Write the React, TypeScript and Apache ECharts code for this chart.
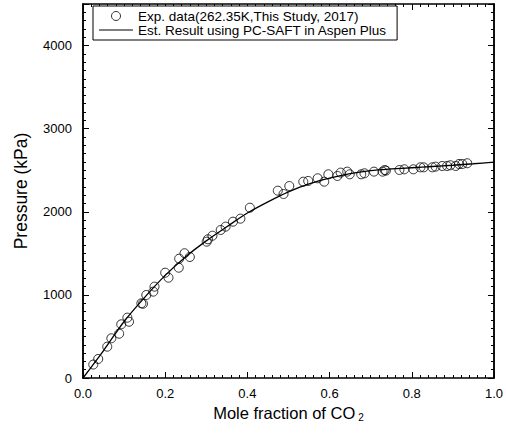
import React, { useEffect, useRef } from "react";
import * as echarts from "echarts";

// Experimental data (mole fraction of CO2, pressure kPa)
const expX = [0.025, 0.037, 0.059, 0.069, 0.088, 0.093, 0.108, 0.112, 0.142, 0.146, 0.154, 0.171, 0.174, 0.2, 0.208, 0.233, 0.234, 0.247, 0.26, 0.301, 0.304, 0.315, 0.335, 0.347, 0.365, 0.383, 0.406, 0.474, 0.488, 0.502, 0.536, 0.548, 0.571, 0.587, 0.597, 0.619, 0.627, 0.643, 0.649, 0.677, 0.685, 0.708, 0.729, 0.734, 0.737, 0.77, 0.782, 0.804, 0.821, 0.829, 0.85, 0.858, 0.874, 0.886, 0.894, 0.907, 0.915, 0.923, 0.935];
const expP = [162, 229, 377, 478, 533, 646, 726, 677, 899, 894, 999, 1039, 1099, 1267, 1207, 1327, 1436, 1501, 1456, 1640, 1669, 1712, 1781, 1821, 1881, 1917, 2049, 2254, 2214, 2310, 2362, 2371, 2403, 2362, 2451, 2431, 2471, 2483, 2451, 2451, 2463, 2483, 2483, 2503, 2495, 2503, 2511, 2511, 2535, 2535, 2535, 2543, 2551, 2551, 2560, 2551, 2575, 2575, 2584];

// PC-SAFT estimated curve
const curveX = [0, 0.05, 0.1, 0.15, 0.2, 0.25, 0.3, 0.35, 0.4, 0.45, 0.5, 0.55, 0.6, 0.65, 0.7, 0.75, 0.8, 0.85, 0.9, 0.95, 1.0];
const curveP = [0, 330, 680, 970, 1235, 1460, 1650, 1820, 1985, 2120, 2240, 2335, 2405, 2460, 2495, 2515, 2530, 2545, 2560, 2578, 2597];

const seriesNames = ["Exp. data(262.35K,This Study, 2017)", "Est. Result using PC-SAFT in Aspen Plus"];
const xTitle = "Mole fraction of CO";
const yTitle = "Pressure (kPa)";

const FONT = "'Liberation Sans Narrow', 'Liberation Sans', Arial, sans-serif";

export default function App() {
  const ref = useRef<HTMLDivElement>(null);
  useEffect(() => {
    if (!ref.current) return;
    const chart = echarts.init(ref.current, undefined, { renderer: "svg" });
    const axisLine = { show: true, onZero: false, lineStyle: { color: "#000", width: 1.5 } };
    const xBase = (pos: "top" | "bottom", labels: boolean) => ({
      type: "value" as const,
      position: pos,
      min: 0,
      max: 1,
      interval: 0.2,
      axisLine,
      axisTick: { show: true, inside: true, length: 6, lineStyle: { color: "#000", width: 1 } },
      minorTick: { show: true, splitNumber: 10, length: 3, lineStyle: { color: "#000", width: 1 } },
      splitLine: { show: false },
      minorSplitLine: { show: false },
      axisLabel: labels
        ? { show: true, margin: 9, color: "#000", fontSize: 13, fontFamily: FONT, formatter: (v: number) => v.toFixed(1) }
        : { show: false },
    });
    const yMinor = (pos: "left" | "right") => ({
      type: "value" as const,
      position: pos,
      min: 0,
      max: 4500,
      interval: 100,
      axisLine,
      axisTick: { show: true, inside: true, length: 3, lineStyle: { color: "#000", width: 1 } },
      splitLine: { show: false },
      axisLabel: { show: false },
    });
    const yMajor = (pos: "left" | "right", labels: boolean) => ({
      type: "value" as const,
      position: pos,
      min: 0,
      max: 4500,
      interval: 1000,
      axisLine,
      axisTick: { show: true, inside: true, length: 6, lineStyle: { color: "#000", width: 1 } },
      splitLine: { show: false },
      axisLabel: labels
        ? {
            show: true,
            margin: 11,
            color: "#000",
            fontSize: 13,
            fontFamily: FONT,
            formatter: (v: number) => (v % 1000 === 0 ? String(v) : ""),
          }
        : { show: false },
    });

    chart.setOption({
      animation: false,
      backgroundColor: "#fff",
      grid: { left: 83, right: 9, top: 4, bottom: 59, containLabel: false },
      legend: {
        show: true,
        orient: "vertical",
        left: 93,
        top: 6,
        padding: [3, 10, 3, 6],
        itemGap: 0,
        itemWidth: 34,
        itemHeight: 9,
        borderColor: "#000",
        borderWidth: 1,
        backgroundColor: "#fff",
        textStyle: { color: "#000", fontSize: 13.5, fontFamily: FONT, lineHeight: 12 },
        data: [
          { name: seriesNames[0], icon: "circle", itemStyle: { color: "rgba(255,255,255,0)", borderColor: "#000", borderWidth: 1 } },
          { name: seriesNames[1], icon: "path://M0 0 L40 0 L40 1 L0 1 Z", itemStyle: { color: "#000", borderWidth: 0 } },
        ],
      },
      xAxis: [
        {
          ...xBase("bottom", true),
          name: xTitle + "{sub|2}",
          nameLocation: "middle",
          nameGap: 26,
          nameTextStyle: {
            color: "#000",
            fontSize: 16.5,
            fontFamily: FONT,
            rich: { sub: { fontSize: 10, fontFamily: FONT, color: "#000", verticalAlign: "bottom", padding: [8, 0, 0, 3] } },
          },
        },
        xBase("top", false),
      ],
      yAxis: [
        yMinor("left"),
        {
          ...yMajor("left", true),
          name: yTitle,
          nameLocation: "middle",
          nameGap: 53,
          nameRotate: 90,
          nameTextStyle: { color: "#000", fontSize: 17.5, fontFamily: FONT },
        },
        yMinor("right"),
        yMajor("right", false),
      ],
      series: [
        {
          name: seriesNames[0],
          type: "scatter",
          xAxisIndex: 0,
          yAxisIndex: 0,
          symbol: "circle",
          symbolSize: 9,
          itemStyle: { color: "rgba(255,255,255,0)", borderColor: "#000", borderWidth: 1 },
          data: expX.map((x, i) => [x, expP[i]]),
          z: 3,
        },
        {
          name: seriesNames[1],
          type: "line",
          xAxisIndex: 0,
          yAxisIndex: 0,
          symbol: "none",
          smooth: 0.3,
          itemStyle: { color: "#000" },
          lineStyle: { color: "#000", width: 1.3 },
          data: curveX.map((x, i) => [x, curveP[i]]),
          z: 2,
        },
      ],
    });
    return () => chart.dispose();
  }, []);
  return <div ref={ref} style={{ width: 506, height: 437, position: "absolute", left: 0, top: 0 }} />;
}
